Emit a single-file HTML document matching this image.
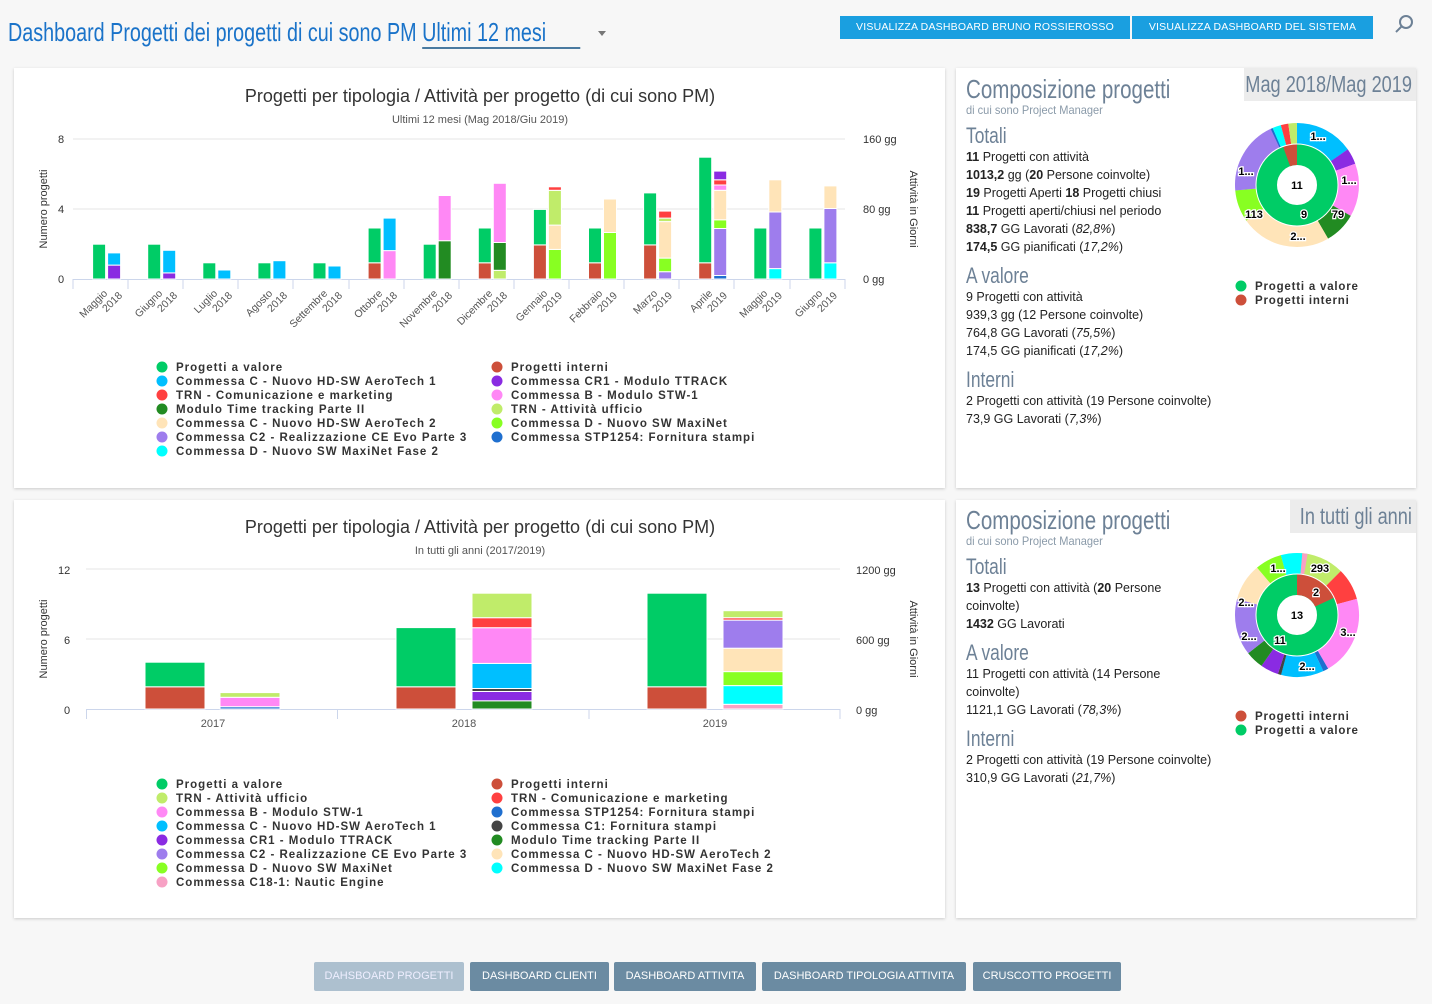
<!DOCTYPE html>
<html><head><meta charset="utf-8"><style>
*{margin:0;padding:0;box-sizing:border-box}
body{width:1432px;height:1004px;background:#f7f7f7;font-family:"Liberation Sans",sans-serif;position:relative;overflow:hidden;color:#222}
.abs{position:absolute}
.panel{position:absolute;background:#fff;box-shadow:0 1px 3px rgba(0,0,0,.18)}
.cond{display:inline-block;transform:scaleX(.79);transform-origin:left center;white-space:nowrap}
.btn{position:absolute;background:#1a9fe0;color:#fff;font-size:10.5px;height:23px;line-height:23px;text-align:center;letter-spacing:.2px}
.bb{position:absolute;top:962px;height:29px;line-height:29px;background:#6b8ba2;color:#fff;font-size:11px;text-align:center;border-radius:2px}
.rp{font-size:12.5px;line-height:18px;color:#222}
.h1{font-size:26px;color:#6d8196}
.h2{font-size:22px;color:#6d8196}
.sub{font-size:12px;color:#8a9aa9}
.tag{position:absolute;background:#ececec;color:#6d8196;font-size:23px;overflow:hidden}
.tag span{position:absolute;right:4px;top:0;white-space:nowrap;transform:scaleX(.79);transform-origin:right center}
</style></head><body>

<div class="abs" style="left:8px;top:17px;font-size:26px;color:#1a73c9"><span class="cond" style="transform:scaleX(.76)">Dashboard Progetti dei progetti di cui sono PM <span style="border-bottom:2px solid #4a7aa0;padding-right:45px">Ultimi 12 mesi</span></span></div>
<div class="abs" style="left:598px;top:31px;width:0;height:0;border-left:4px solid transparent;border-right:4px solid transparent;border-top:5px solid #777"></div>
<div class="btn" style="left:840px;top:16px;width:290px">VISUALIZZA DASHBOARD BRUNO ROSSIEROSSO</div>
<div class="btn" style="left:1132px;top:16px;width:241px">VISUALIZZA DASHBOARD DEL SISTEMA</div>
<svg class="abs" style="left:1394px;top:13px" width="22" height="22"><circle cx="12" cy="9" r="6" fill="none" stroke="#6d8196" stroke-width="2"/><line x1="8" y1="13" x2="2" y2="19" stroke="#6d8196" stroke-width="2"/></svg>

<div class="panel" style="left:14px;top:68px;width:931px;height:420px"></div>
<div class="panel" style="left:956px;top:68px;width:460px;height:420px"></div>
<div class="panel" style="left:14px;top:500px;width:931px;height:418px"></div>
<div class="panel" style="left:956px;top:500px;width:460px;height:418px"></div>

<!-- right panel 1 -->
<div class="tag" style="left:1244px;top:68px;width:172px;height:33px;line-height:33px"><span>Mag 2018/Mag 2019</span></div>
<div class="abs h1" style="left:966px;top:74px"><span class="cond">Composizione progetti</span></div>
<div class="abs sub" style="left:966px;top:103px"><span class="cond" style="transform:scaleX(.92)">di cui sono Project Manager</span></div>
<div class="abs h2" style="left:966px;top:123px"><span class="cond">Totali</span></div>
<div class="abs rp" style="left:966px;top:148px"><b>11</b> Progetti con attività<br><b>1013,2</b> gg (<b>20</b> Persone coinvolte)<br><b>19</b> Progetti Aperti <b>18</b> Progetti chiusi<br><b>11</b> Progetti aperti/chiusi nel periodo<br><b>838,7</b> GG Lavorati (<i>82,8%</i>)<br><b>174,5</b> GG pianificati (<i>17,2%</i>)</div>
<div class="abs h2" style="left:966px;top:263px"><span class="cond">A valore</span></div>
<div class="abs rp" style="left:966px;top:288px">9 Progetti con attività<br>939,3 gg (12 Persone coinvolte)<br>764,8 GG Lavorati (<i>75,5%</i>)<br>174,5 GG pianificati (<i>17,2%</i>)</div>
<div class="abs h2" style="left:966px;top:367px"><span class="cond">Interni</span></div>
<div class="abs rp" style="left:966px;top:392px">2 Progetti con attività (19 Persone coinvolte)<br>73,9 GG Lavorati (<i>7,3%</i>)</div>

<!-- right panel 2 -->
<div class="tag" style="left:1290px;top:500px;width:126px;height:33px;line-height:33px"><span>In tutti gli anni</span></div>
<div class="abs h1" style="left:966px;top:505px"><span class="cond">Composizione progetti</span></div>
<div class="abs sub" style="left:966px;top:534px"><span class="cond" style="transform:scaleX(.92)">di cui sono Project Manager</span></div>
<div class="abs h2" style="left:966px;top:554px"><span class="cond">Totali</span></div>
<div class="abs rp" style="left:966px;top:579px;width:230px"><b>13</b> Progetti con attività (<b>20</b> Persone coinvolte)<br><b>1432</b> GG Lavorati</div>
<div class="abs h2" style="left:966px;top:640px"><span class="cond">A valore</span></div>
<div class="abs rp" style="left:966px;top:665px;width:230px">11 Progetti con attività (14 Persone coinvolte)<br>1121,1 GG Lavorati (<i>78,3%</i>)</div>
<div class="abs h2" style="left:966px;top:726px"><span class="cond">Interni</span></div>
<div class="abs rp" style="left:966px;top:751px">2 Progetti con attività (19 Persone coinvolte)<br>310,9 GG Lavorati (<i>21,7%</i>)</div>

<div class="bb" style="left:314px;width:150px;background:#adc0cf;color:#eef">DAHSBOARD PROGETTI</div>
<div class="bb" style="left:470px;width:139px">DASHBOARD CLIENTI</div>
<div class="bb" style="left:614px;width:142px">DASHBOARD ATTIVITA</div>
<div class="bb" style="left:762px;width:204px">DASHBOARD TIPOLOGIA ATTIVITA</div>
<div class="bb" style="left:973px;width:148px">CRUSCOTTO PROGETTI</div>

<svg class="abs" style="left:0;top:0" width="1432" height="1004" font-family="Liberation Sans, sans-serif">
<!-- CHART 1 -->
<text x="480" y="102" font-size="18" text-anchor="middle" fill="#333">Progetti per tipologia / Attività per progetto (di cui sono PM)</text>
<text x="480" y="123" font-size="11" text-anchor="middle" fill="#555">Ultimi 12 mesi (Mag 2018/Giu 2019)</text>
<g stroke="#e6e6e6"><line x1="73" y1="139" x2="845" y2="139"/><line x1="73" y1="209" x2="845" y2="209"/></g>
<line x1="73" y1="279.5" x2="845" y2="279.5" stroke="#ccd6eb"/>
<g stroke="#ccd6eb"><line x1="73" y1="279" x2="73" y2="289"/><line x1="128" y1="279" x2="128" y2="289"/><line x1="183" y1="279" x2="183" y2="289"/><line x1="238" y1="279" x2="238" y2="289"/><line x1="293" y1="279" x2="293" y2="289"/><line x1="349" y1="279" x2="349" y2="289"/><line x1="404" y1="279" x2="404" y2="289"/><line x1="459" y1="279" x2="459" y2="289"/><line x1="514" y1="279" x2="514" y2="289"/><line x1="569" y1="279" x2="569" y2="289"/><line x1="624" y1="279" x2="624" y2="289"/><line x1="679" y1="279" x2="679" y2="289"/><line x1="734" y1="279" x2="734" y2="289"/><line x1="790" y1="279" x2="790" y2="289"/><line x1="845" y1="279" x2="845" y2="289"/></g>
<g font-size="11" fill="#333"><text x="58" y="143">8</text><text x="58" y="213">4</text><text x="58" y="283">0</text>
<text x="863" y="143">160 gg</text><text x="863" y="213">80 gg</text><text x="863" y="283">0 gg</text></g>
<text transform="translate(47,209) rotate(-90)" font-size="11" text-anchor="middle" fill="#333">Numero progetti</text>
<text transform="translate(910,209) rotate(90)" font-size="11" text-anchor="middle" fill="#333">Attività in Giorni</text>
<g font-size="10.5" fill="#555" text-anchor="end">
<g transform="translate(108,294) rotate(-45)"><text>Maggio</text><text x="9" y="12">2018</text></g>
<g transform="translate(163,294) rotate(-45)"><text>Giugno</text><text x="9" y="12">2018</text></g>
<g transform="translate(218,294) rotate(-45)"><text>Luglio</text><text x="9" y="12">2018</text></g>
<g transform="translate(273,294) rotate(-45)"><text>Agosto</text><text x="9" y="12">2018</text></g>
<g transform="translate(328,294) rotate(-45)"><text>Settembre</text><text x="9" y="12">2018</text></g>
<g transform="translate(383,294) rotate(-45)"><text>Ottobre</text><text x="9" y="12">2018</text></g>
<g transform="translate(438,294) rotate(-45)"><text>Novembre</text><text x="9" y="12">2018</text></g>
<g transform="translate(493,294) rotate(-45)"><text>Dicembre</text><text x="9" y="12">2018</text></g>
<g transform="translate(548,294) rotate(-45)"><text>Gennaio</text><text x="9" y="12">2019</text></g>
<g transform="translate(603,294) rotate(-45)"><text>Febbraio</text><text x="9" y="12">2019</text></g>
<g transform="translate(658,294) rotate(-45)"><text>Marzo</text><text x="9" y="12">2019</text></g>
<g transform="translate(713,294) rotate(-45)"><text>Aprile</text><text x="9" y="12">2019</text></g>
<g transform="translate(768,294) rotate(-45)"><text>Maggio</text><text x="9" y="12">2019</text></g>
<g transform="translate(823,294) rotate(-45)"><text>Giugno</text><text x="9" y="12">2019</text></g>
</g>
<g stroke="#fff" stroke-width="1">
<rect x="92.6" y="244.2" width="13" height="34.8" fill="#00cc66"/>
<rect x="107.6" y="265.1" width="13" height="13.9" fill="#8a2be2"/><rect x="107.6" y="252.9" width="13" height="12.2" fill="#00bfff"/>
<rect x="147.7" y="244.2" width="13" height="34.8" fill="#00cc66"/>
<rect x="162.7" y="272.9" width="13" height="6.1" fill="#8a2be2"/><rect x="162.7" y="250.3" width="13" height="22.6" fill="#00bfff"/>
<rect x="202.8" y="262.8" width="13" height="16.2" fill="#00cc66"/><rect x="217.8" y="270" width="13" height="9" fill="#00bfff"/>
<rect x="257.9" y="262.8" width="13" height="16.2" fill="#00cc66"/><rect x="272.9" y="260.7" width="13" height="18.3" fill="#00bfff"/>
<rect x="313" y="262.8" width="13" height="16.2" fill="#00cc66"/><rect x="328" y="266" width="13" height="13" fill="#00bfff"/>
<rect x="368.1" y="262.8" width="13" height="16.2" fill="#cd4f3a"/><rect x="368.1" y="228" width="13" height="34.8" fill="#00cc66"/>
<rect x="383.1" y="250.6" width="13" height="28.4" fill="#ff88f5"/><rect x="383.1" y="218.1" width="13" height="32.5" fill="#00bfff"/>
<rect x="423.2" y="244.2" width="13" height="34.8" fill="#00cc66"/>
<rect x="438.2" y="240.7" width="13" height="38.3" fill="#228b22"/><rect x="438.2" y="195.5" width="13" height="45.2" fill="#ff88f5"/>
<rect x="478.3" y="262.8" width="13" height="16.2" fill="#cd4f3a"/><rect x="478.3" y="228" width="13" height="34.8" fill="#00cc66"/>
<rect x="493.3" y="270.3" width="13" height="8.7" fill="#c0ec6a"/><rect x="493.3" y="242.5" width="13" height="27.8" fill="#228b22"/><rect x="493.3" y="183.3" width="13" height="59.2" fill="#ff88f5"/>
<rect x="533.4" y="244.9" width="13" height="34.1" fill="#cd4f3a"/><rect x="533.4" y="209.4" width="13" height="35.5" fill="#00cc66"/>
<rect x="548.4" y="249.4" width="13" height="29.6" fill="#88ff22"/><rect x="548.4" y="225.1" width="13" height="24.3" fill="#ffe4b8"/><rect x="548.4" y="190.3" width="13" height="34.8" fill="#c0ec6a"/><rect x="548.4" y="186.8" width="13" height="3.5" fill="#ff4040"/>
<rect x="588.5" y="262.8" width="13" height="16.2" fill="#cd4f3a"/><rect x="588.5" y="228" width="13" height="34.8" fill="#00cc66"/>
<rect x="603.5" y="232.5" width="13" height="46.5" fill="#88ff22"/><rect x="603.5" y="199" width="13" height="33.5" fill="#ffe4b8"/>
<rect x="643.6" y="244.9" width="13" height="34.1" fill="#cd4f3a"/><rect x="643.6" y="192.9" width="13" height="52" fill="#00cc66"/>
<rect x="658.6" y="271.7" width="13" height="7.3" fill="#9e7ded"/><rect x="658.6" y="258.1" width="13" height="13.6" fill="#88ff22"/><rect x="658.6" y="221.6" width="13" height="36.5" fill="#ffe4b8"/><rect x="658.6" y="218.1" width="13" height="3.5" fill="#c0ec6a"/><rect x="658.6" y="211.1" width="13" height="7" fill="#ff4040"/>
<rect x="698.7" y="262.8" width="13" height="16.2" fill="#cd4f3a"/><rect x="698.7" y="157.2" width="13" height="105.6" fill="#00cc66"/>
<rect x="713.7" y="275.5" width="13" height="3.5" fill="#1f6fcf"/><rect x="713.7" y="228.5" width="13" height="47" fill="#9e7ded"/><rect x="713.7" y="219.8" width="13" height="8.7" fill="#88ff22"/><rect x="713.7" y="190.3" width="13" height="29.5" fill="#ffe4b8"/><rect x="713.7" y="185" width="13" height="5.3" fill="#ff88f5"/><rect x="713.7" y="179.8" width="13" height="5.2" fill="#ff4040"/><rect x="713.7" y="171.1" width="13" height="8.7" fill="#8a2be2"/>
<rect x="753.8" y="228" width="13" height="51" fill="#00cc66"/>
<rect x="768.8" y="268.6" width="13" height="10.4" fill="#00ffff"/><rect x="768.8" y="212" width="13" height="56.6" fill="#9e7ded"/><rect x="768.8" y="179.8" width="13" height="32.2" fill="#ffe4b8"/>
<rect x="808.9" y="228" width="13" height="51" fill="#00cc66"/>
<rect x="823.9" y="262.8" width="13" height="16.2" fill="#00ffff"/><rect x="823.9" y="208.5" width="13" height="54.3" fill="#9e7ded"/><rect x="823.9" y="185.9" width="13" height="22.6" fill="#ffe4b8"/>
</g>
<g font-size="11.5" font-weight="bold" fill="#333" letter-spacing="1">
<circle cx="162" cy="367" r="5.5" fill="#00cc66"/><text x="176" y="371">Progetti a valore</text>
<circle cx="162" cy="381" r="5.5" fill="#00bfff"/><text x="176" y="385">Commessa C - Nuovo HD-SW AeroTech 1</text>
<circle cx="162" cy="395" r="5.5" fill="#ff4040"/><text x="176" y="399">TRN - Comunicazione e marketing</text>
<circle cx="162" cy="409" r="5.5" fill="#228b22"/><text x="176" y="413">Modulo Time tracking Parte II</text>
<circle cx="162" cy="423" r="5.5" fill="#ffe4b8"/><text x="176" y="427">Commessa C - Nuovo HD-SW AeroTech 2</text>
<circle cx="162" cy="437" r="5.5" fill="#9e7ded"/><text x="176" y="441">Commessa C2 - Realizzazione CE Evo Parte 3</text>
<circle cx="162" cy="451" r="5.5" fill="#00ffff"/><text x="176" y="455">Commessa D - Nuovo SW MaxiNet Fase 2</text>
<circle cx="497" cy="367" r="5.5" fill="#cd4f3a"/><text x="511" y="371">Progetti interni</text>
<circle cx="497" cy="381" r="5.5" fill="#8a2be2"/><text x="511" y="385">Commessa CR1 - Modulo TTRACK</text>
<circle cx="497" cy="395" r="5.5" fill="#ff88f5"/><text x="511" y="399">Commessa B - Modulo STW-1</text>
<circle cx="497" cy="409" r="5.5" fill="#c0ec6a"/><text x="511" y="413">TRN - Attività ufficio</text>
<circle cx="497" cy="423" r="5.5" fill="#88ff22"/><text x="511" y="427">Commessa D - Nuovo SW MaxiNet</text>
<circle cx="497" cy="437" r="5.5" fill="#1f6fcf"/><text x="511" y="441">Commessa STP1254: Fornitura stampi</text>
</g>

<!-- CHART 2 -->
<text x="480" y="533" font-size="18" text-anchor="middle" fill="#333">Progetti per tipologia / Attività per progetto (di cui sono PM)</text>
<text x="480" y="554" font-size="11" text-anchor="middle" fill="#555">In tutti gli anni (2017/2019)</text>
<g stroke="#e6e6e6"><line x1="86" y1="569" x2="840" y2="569"/><line x1="86" y1="639" x2="840" y2="639"/></g>
<line x1="86" y1="709.5" x2="840" y2="709.5" stroke="#ccd6eb"/>
<g stroke="#ccd6eb"><line x1="86.5" y1="709" x2="86.5" y2="719"/><line x1="337.5" y1="709" x2="337.5" y2="719"/><line x1="589" y1="709" x2="589" y2="719"/><line x1="840" y1="709" x2="840" y2="719"/></g>
<g font-size="11" fill="#333"><text x="58" y="574">12</text><text x="64" y="644">6</text><text x="64" y="714">0</text>
<text x="856" y="574">1200 gg</text><text x="856" y="644">600 gg</text><text x="856" y="714">0 gg</text></g>
<g font-size="11" fill="#555" text-anchor="middle"><text x="213" y="727">2017</text><text x="464" y="727">2018</text><text x="715" y="727">2019</text></g>
<text transform="translate(47,639) rotate(-90)" font-size="11" text-anchor="middle" fill="#333">Numero progetti</text>
<text transform="translate(910,639) rotate(90)" font-size="11" text-anchor="middle" fill="#333">Attività in Giorni</text>
<g stroke="#fff" stroke-width="1">
<rect x="145" y="686.8" width="60" height="22.2" fill="#cd4f3a"/><rect x="145" y="662.2" width="60" height="24.6" fill="#00cc66"/>
<rect x="220" y="706.7" width="60" height="2.3" fill="#1f6fcf"/><rect x="220" y="697.3" width="60" height="9.4" fill="#ff88f5"/><rect x="220" y="692.6" width="60" height="4.7" fill="#c0ec6a"/>
<rect x="396" y="686.8" width="60" height="22.2" fill="#cd4f3a"/><rect x="396" y="627.6" width="60" height="59.2" fill="#00cc66"/>
<rect x="472" y="700.8" width="60" height="8.2" fill="#228b22"/><rect x="472" y="691.5" width="60" height="9.3" fill="#8a2be2"/><rect x="472" y="688.5" width="60" height="3" fill="#444"/><rect x="472" y="663.4" width="60" height="25.1" fill="#00bfff"/><rect x="472" y="627.7" width="60" height="35.7" fill="#ff88f5"/><rect x="472" y="617.7" width="60" height="10" fill="#ff4040"/><rect x="472" y="593.2" width="60" height="24.5" fill="#c0ec6a"/>
<rect x="647" y="686.8" width="60" height="22.2" fill="#cd4f3a"/><rect x="647" y="593.2" width="60" height="93.6" fill="#00cc66"/>
<rect x="723" y="704.3" width="60" height="4.7" fill="#f7a1c4"/><rect x="723" y="685.6" width="60" height="18.7" fill="#00ffff"/><rect x="723" y="671.6" width="60" height="14" fill="#88ff22"/><rect x="723" y="648.2" width="60" height="23.4" fill="#ffe4b8"/><rect x="723" y="620.1" width="60" height="28.1" fill="#9e7ded"/><rect x="723" y="617.7" width="60" height="2.4" fill="#ff4040"/><rect x="723" y="610.7" width="60" height="7" fill="#c0ec6a"/>
</g>
<g font-size="11.5" font-weight="bold" fill="#333" letter-spacing="1">
<circle cx="162" cy="784" r="5.5" fill="#00cc66"/><text x="176" y="788">Progetti a valore</text>
<circle cx="162" cy="798" r="5.5" fill="#c0ec6a"/><text x="176" y="802">TRN - Attività ufficio</text>
<circle cx="162" cy="812" r="5.5" fill="#ff88f5"/><text x="176" y="816">Commessa B - Modulo STW-1</text>
<circle cx="162" cy="826" r="5.5" fill="#00bfff"/><text x="176" y="830">Commessa C - Nuovo HD-SW AeroTech 1</text>
<circle cx="162" cy="840" r="5.5" fill="#8a2be2"/><text x="176" y="844">Commessa CR1 - Modulo TTRACK</text>
<circle cx="162" cy="854" r="5.5" fill="#9e7ded"/><text x="176" y="858">Commessa C2 - Realizzazione CE Evo Parte 3</text>
<circle cx="162" cy="868" r="5.5" fill="#88ff22"/><text x="176" y="872">Commessa D - Nuovo SW MaxiNet</text>
<circle cx="162" cy="882" r="5.5" fill="#f7a1c4"/><text x="176" y="886">Commessa C18-1: Nautic Engine</text>
<circle cx="497" cy="784" r="5.5" fill="#cd4f3a"/><text x="511" y="788">Progetti interni</text>
<circle cx="497" cy="798" r="5.5" fill="#ff4040"/><text x="511" y="802">TRN - Comunicazione e marketing</text>
<circle cx="497" cy="812" r="5.5" fill="#1f6fcf"/><text x="511" y="816">Commessa STP1254: Fornitura stampi</text>
<circle cx="497" cy="826" r="5.5" fill="#444"/><text x="511" y="830">Commessa C1: Fornitura stampi</text>
<circle cx="497" cy="840" r="5.5" fill="#228b22"/><text x="511" y="844">Modulo Time tracking Parte II</text>
<circle cx="497" cy="854" r="5.5" fill="#ffe4b8"/><text x="511" y="858">Commessa C - Nuovo HD-SW AeroTech 2</text>
<circle cx="497" cy="868" r="5.5" fill="#00ffff"/><text x="511" y="872">Commessa D - Nuovo SW MaxiNet Fase 2</text>
</g>

<!-- DONUT 1 -->
<g transform="translate(1297,185)" fill="none" stroke-width="21">
<circle r="30.5" stroke="#00cc66"/>
<circle r="30.5" stroke="#cd4f3a" pathLength="360" stroke-dasharray="20 340" transform="rotate(250)"/>
<circle r="51.5" stroke="#00bfff" pathLength="360" stroke-dasharray="55 305" transform="rotate(-90)"/>
<circle r="51.5" stroke="#8a2be2" pathLength="360" stroke-dasharray="15 345" transform="rotate(-35)"/>
<circle r="51.5" stroke="#ff88f5" pathLength="360" stroke-dasharray="50 310" transform="rotate(-20)"/>
<circle r="51.5" stroke="#228b22" pathLength="360" stroke-dasharray="30 330" transform="rotate(30)"/>
<circle r="51.5" stroke="#ffe4b8" pathLength="360" stroke-dasharray="85 275" transform="rotate(60)"/>
<circle r="51.5" stroke="#88ff22" pathLength="360" stroke-dasharray="30 330" transform="rotate(145)"/>
<circle r="51.5" stroke="#9e7ded" pathLength="360" stroke-dasharray="70 290" transform="rotate(175)"/>
<circle r="51.5" stroke="#1f6fcf" pathLength="360" stroke-dasharray="2 358" transform="rotate(245)"/>
<circle r="51.5" stroke="#00ffff" pathLength="360" stroke-dasharray="8 352" transform="rotate(247)"/>
<circle r="51.5" stroke="#ff4040" pathLength="360" stroke-dasharray="7 353" transform="rotate(255)"/>
<circle r="51.5" stroke="#c0ec6a" pathLength="360" stroke-dasharray="8 352" transform="rotate(262)"/>
<circle r="41" stroke="#fff" stroke-width="1"/>
</g>
<g font-size="11" font-weight="bold" text-anchor="middle" fill="#000" stroke="#fff" stroke-width="2.5" paint-order="stroke">
<text x="1297" y="189">11</text><text x="1304" y="218">9</text>
<text x="1318" y="140">1...</text><text x="1349" y="184">1...</text><text x="1338" y="218">79</text>
<text x="1298" y="240">2...</text><text x="1254" y="218">113</text><text x="1246" y="175">1...</text>
</g>
<g font-size="11.5" font-weight="bold" fill="#333" letter-spacing=".8">
<circle cx="1241" cy="286" r="5.5" fill="#00cc66"/><text x="1255" y="290">Progetti a valore</text>
<circle cx="1241" cy="300" r="5.5" fill="#cd4f3a"/><text x="1255" y="304">Progetti interni</text>
</g>

<!-- DONUT 2 -->
<g transform="translate(1297,615)" fill="none" stroke-width="21">
<circle r="30.5" stroke="#00cc66"/>
<circle r="30.5" stroke="#cd4f3a" pathLength="360" stroke-dasharray="65 295" transform="rotate(-90)"/>
<circle r="51.5" stroke="#c0ec6a" pathLength="360" stroke-dasharray="45 315" transform="rotate(-90)"/>
<circle r="51.5" stroke="#ff4040" pathLength="360" stroke-dasharray="30 330" transform="rotate(-45)"/>
<circle r="51.5" stroke="#ff88f5" pathLength="360" stroke-dasharray="75 285" transform="rotate(-15)"/>
<circle r="51.5" stroke="#1f6fcf" pathLength="360" stroke-dasharray="5 355" transform="rotate(60)"/>
<circle r="51.5" stroke="#00bfff" pathLength="360" stroke-dasharray="40 320" transform="rotate(65)"/>
<circle r="51.5" stroke="#444" pathLength="360" stroke-dasharray="3 357" transform="rotate(105)"/>
<circle r="51.5" stroke="#8a2be2" pathLength="360" stroke-dasharray="17 343" transform="rotate(108)"/>
<circle r="51.5" stroke="#228b22" pathLength="360" stroke-dasharray="17 343" transform="rotate(125)"/>
<circle r="51.5" stroke="#9e7ded" pathLength="360" stroke-dasharray="53 307" transform="rotate(142)"/>
<circle r="51.5" stroke="#ffe4b8" pathLength="360" stroke-dasharray="35 325" transform="rotate(195)"/>
<circle r="51.5" stroke="#88ff22" pathLength="360" stroke-dasharray="25 335" transform="rotate(230)"/>
<circle r="51.5" stroke="#00ffff" pathLength="360" stroke-dasharray="20 340" transform="rotate(255)"/>
<circle r="51.5" stroke="#f7a1c4" pathLength="360" stroke-dasharray="5 355" transform="rotate(275)"/>
<circle r="41" stroke="#fff" stroke-width="1"/>
</g>
<g font-size="11" font-weight="bold" text-anchor="middle" fill="#000" stroke="#fff" stroke-width="2.5" paint-order="stroke">
<text x="1297" y="619">13</text><text x="1316" y="596">2</text><text x="1280" y="644">11</text>
<text x="1320" y="572">293</text><text x="1278" y="572">1...</text><text x="1348" y="636">3...</text>
<text x="1307" y="670">2...</text><text x="1249" y="640">2...</text><text x="1246" y="606">2...</text>
</g>
<g font-size="11.5" font-weight="bold" fill="#333" letter-spacing=".8">
<circle cx="1241" cy="716" r="5.5" fill="#cd4f3a"/><text x="1255" y="720">Progetti interni</text>
<circle cx="1241" cy="730" r="5.5" fill="#00cc66"/><text x="1255" y="734">Progetti a valore</text>
</g>
</svg>
</body></html>
